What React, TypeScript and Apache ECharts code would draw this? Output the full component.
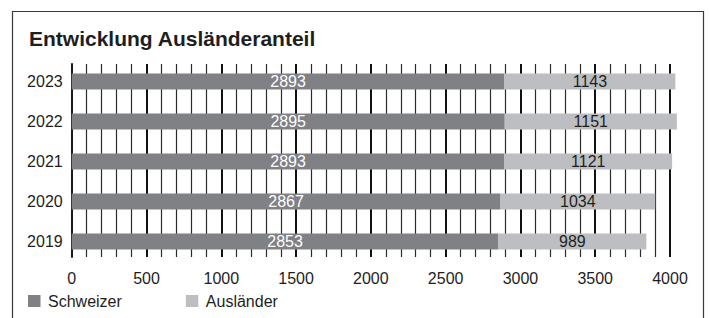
import React, { useEffect, useRef } from "react";
import * as echarts from "echarts";

const years = ["2019", "2020", "2021", "2022", "2023"];
const schweizer = [2853, 2867, 2893, 2895, 2893];
const auslaender = [989, 1034, 1121, 1151, 1143];
const xTicks = { min: 0, max: 4000, interval: 500 };

const FONT = "'Liberation Sans', Arial, Helvetica, sans-serif";
const TEXT = "#1e1e1e";

export default function App() {
  const ref = useRef<HTMLDivElement>(null);
  useEffect(() => {
    if (!ref.current) return;
    const chart = echarts.init(ref.current, undefined, { renderer: "svg" });
    chart.setOption({
      animation: false,
      backgroundColor: "#ffffff",
      textStyle: { fontFamily: FONT },
      title: {
        text: "Entwicklung Ausländeranteil",
        left: 29,
        top: 28,
        padding: 0,
        textStyle: { fontFamily: FONT, fontSize: 21, fontWeight: "bold", color: TEXT },
      },
      graphic: [
        {
          type: "rect",
          shape: { x: 12.5, y: 11.5, width: 691, height: 340 },
          style: { fill: "none", stroke: "#3a3a3a", lineWidth: 1.2 },
          silent: true,
        },
      ],
      legend: {
        left: 28,
        top: 293,
        padding: 0,
        itemWidth: 12.5,
        itemHeight: 12,
        itemGap: 64,
        icon: "rect",
        textStyle: { fontFamily: FONT, fontSize: 16, color: TEXT, padding: [0, 0, 0, 2.5] },
        data: ["Schweizer", "Ausländer"],
      },
      grid: [
        { left: 71.7, right: 40, top: 64, height: 193 },
        { left: 71.7, right: 40, top: 61.5, height: 200 },
      ],
      xAxis: [
        {
          gridIndex: 0,
          type: "value",
          min: xTicks.min,
          max: xTicks.max,
          interval: xTicks.interval,
          axisLine: { show: false },
          axisTick: { show: false },
          axisLabel: {
            fontFamily: FONT,
            fontSize: 16,
            color: TEXT,
            margin: 13,
            formatter: (v: number) => String(v),
          },
          splitLine: { show: true, lineStyle: { color: "#111111", width: 2 } },
          minorTick: { show: false, splitNumber: 5 },
          minorSplitLine: { show: true, lineStyle: { color: "#2a2a2a", width: 1.2 } },
        },
        {
          gridIndex: 1,
          type: "value",
          min: xTicks.min,
          max: xTicks.max,
          show: false,
          splitLine: { show: false },
        },
      ],
      yAxis: [
        {
          gridIndex: 0,
          type: "value",
          min: 0,
          max: 1,
          axisLine: { show: true, onZero: false, lineStyle: { color: "#1a1a1a", width: 2 } },
          axisTick: { show: false },
          axisLabel: { show: false },
          splitLine: { show: false },
        },
        {
          gridIndex: 1,
          type: "category",
          data: years,
          axisLine: { show: false },
          axisTick: { show: false },
          axisLabel: { fontFamily: FONT, fontSize: 16, color: TEXT, margin: 9 },
          splitLine: { show: false },
        },
      ],
      series: [
        {
          name: "Schweizer",
          type: "bar",
          xAxisIndex: 1,
          yAxisIndex: 1,
          stack: "total",
          barWidth: 16,
          clip: false,
          data: schweizer,
          itemStyle: { color: "#808185" },
          label: {
            show: true,
            position: "inside",
            fontFamily: FONT,
            fontSize: 16,
            color: "#ffffff",
          },
        },
        {
          name: "Ausländer",
          type: "bar",
          xAxisIndex: 1,
          yAxisIndex: 1,
          stack: "total",
          barWidth: 16,
          clip: false,
          data: auslaender,
          itemStyle: { color: "#bdbec1" },
          label: {
            show: true,
            position: "inside",
            fontFamily: FONT,
            fontSize: 16,
            color: TEXT,
          },
        },
      ],
    });
    return () => chart.dispose();
  }, []);
  return (
    <div
      ref={ref}
      style={{ position: "fixed", left: 0, top: 0, width: 710, height: 318 }}
    />
  );
}
